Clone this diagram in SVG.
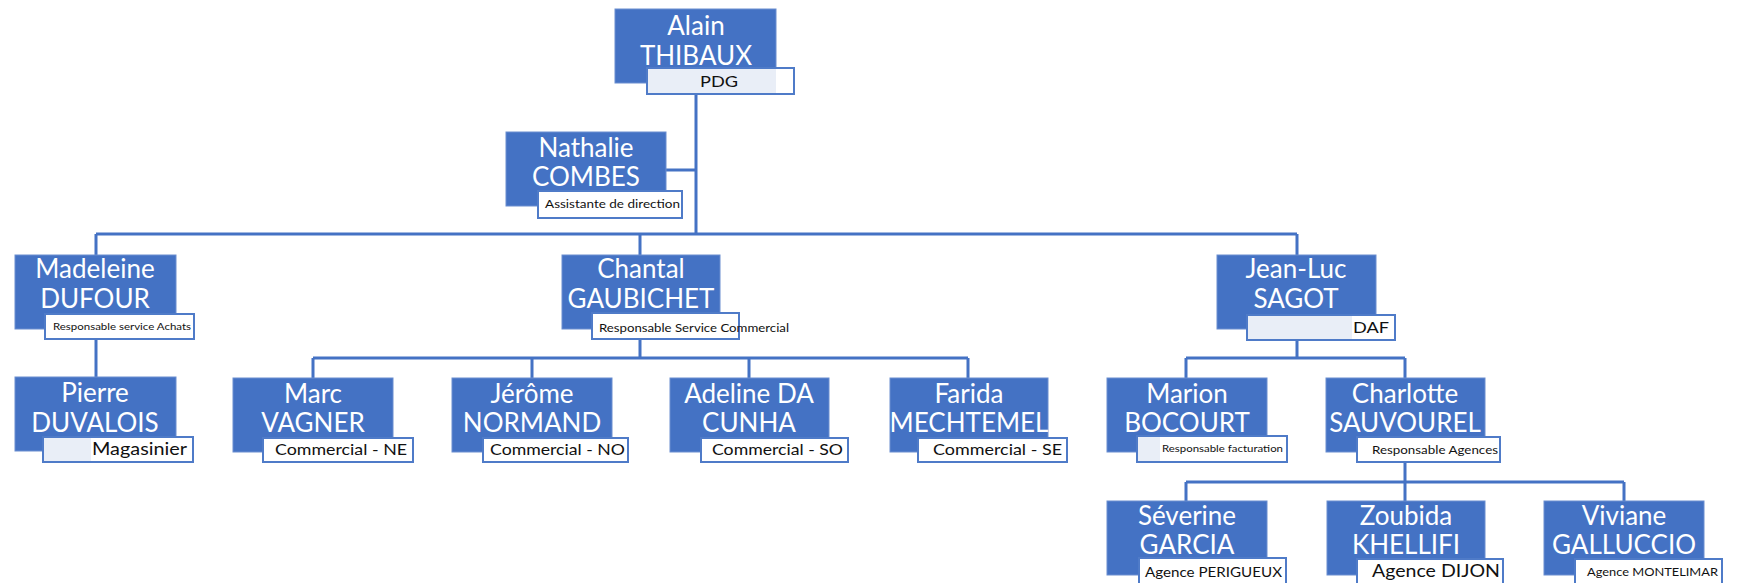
<svg xmlns="http://www.w3.org/2000/svg" width="1737" height="583" viewBox="0 0 1737 583">
<style>
.box{fill:#4472C4;stroke:#6A8ED0;stroke-width:1}
.lab{fill:#FFFFFF;stroke:#4F7BC8;stroke-width:2}
.tint{fill:#E9EEF7}
.nm{font-family:Lato,"Liberation Sans",sans-serif;font-size:26px;fill:#FFFFFF;text-anchor:middle}
.lt{font-family:Lato,"Liberation Sans",sans-serif;fill:#111111}
.con{fill:none;stroke:#4472C4;stroke-width:3}
</style>
<rect width="1737" height="583" fill="#FFFFFF"/>
<g id="connectors" class="con">
<path d="M696 94V234M666 170H696M96 234H1297M96 234V255M640 234V255M1297 234V255"/>
<path d="M96 339V377"/>
<path d="M640 339V358M313 358H968M313 358V378M532 358V378M749 358V378M968 358V378"/>
<path d="M1297 340V358M1186 358H1405M1186 358V378M1405 358V378"/>
<path d="M1405 462V482M1186 482H1624M1186 482V501M1405 482V501M1624 482V501"/>
</g>
<g id="n-alain"><rect class="box" x="615" y="9" width="161" height="74"/><text class="nm" x="696" y="35">Alain</text><text class="nm" x="696" y="65">THIBAUX</text><rect class="lab" x="647" y="68" width="147" height="26"/><rect class="tint" x="648" y="69" width="128" height="24"/><text class="lt" x="700" y="87" font-size="16" textLength="38" lengthAdjust="spacingAndGlyphs">PDG</text></g>
<g id="n-nathalie"><rect class="box" x="506" y="132" width="160" height="74"/><text class="nm" x="586" y="157">Nathalie</text><text class="nm" x="586" y="186">COMBES</text><rect class="lab" x="538" y="191" width="144" height="27"/><text class="lt" x="545" y="208" font-size="11.5" textLength="135" lengthAdjust="spacingAndGlyphs">Assistante de direction</text></g>
<g id="n-madeleine"><rect class="box" x="15" y="255" width="161" height="74"/><text class="nm" x="95" y="278">Madeleine</text><text class="nm" x="95" y="308">DUFOUR</text><rect class="lab" x="45" y="314" width="149" height="25"/><text class="lt" x="53" y="330" font-size="10" textLength="138" lengthAdjust="spacingAndGlyphs">Responsable service Achats</text></g>
<g id="n-chantal"><rect class="box" x="562" y="255" width="158" height="74"/><text class="nm" x="641" y="278">Chantal</text><text class="nm" x="641" y="308">GAUBICHET</text><rect class="lab" x="592" y="313" width="147" height="26"/><text class="lt" x="599" y="332" font-size="12" textLength="190" lengthAdjust="spacingAndGlyphs">Responsable Service Commercial</text></g>
<g id="n-jeanluc"><rect class="box" x="1217" y="255" width="159" height="74"/><text class="nm" x="1296" y="278">Jean-Luc</text><text class="nm" x="1296" y="308">SAGOT</text><rect class="lab" x="1247" y="315" width="148" height="25"/><rect class="tint" x="1248" y="316" width="104" height="23"/><text class="lt" x="1353" y="333" font-size="16" textLength="36" lengthAdjust="spacingAndGlyphs">DAF</text></g>
<g id="n-pierre"><rect class="box" x="15" y="377" width="161" height="74"/><text class="nm" x="95" y="402">Pierre</text><text class="nm" x="95" y="432">DUVALOIS</text><rect class="lab" x="43" y="437" width="150" height="25"/><rect class="tint" x="44" y="438" width="47" height="23"/><text class="lt" x="92" y="455" font-size="17" textLength="95" lengthAdjust="spacingAndGlyphs">Magasinier</text></g>
<g id="n-marc"><rect class="box" x="233" y="378" width="160" height="74"/><text class="nm" x="313" y="403">Marc</text><text class="nm" x="313" y="432">VAGNER</text><rect class="lab" x="263" y="438" width="150" height="24"/><text class="lt" x="275" y="455" font-size="15" textLength="132" lengthAdjust="spacingAndGlyphs">Commercial - NE</text></g>
<g id="n-jerome"><rect class="box" x="452" y="378" width="160" height="74"/><text class="nm" x="532" y="403">Jérôme</text><text class="nm" x="532" y="432">NORMAND</text><rect class="lab" x="483" y="438" width="145" height="24"/><text class="lt" x="490" y="455" font-size="15" textLength="135" lengthAdjust="spacingAndGlyphs">Commercial - NO</text></g>
<g id="n-adeline"><rect class="box" x="670" y="378" width="159" height="74"/><text class="nm" x="749" y="403">Adeline DA</text><text class="nm" x="749" y="432">CUNHA</text><rect class="lab" x="701" y="438" width="147" height="24"/><text class="lt" x="712" y="455" font-size="15" textLength="131" lengthAdjust="spacingAndGlyphs">Commercial - SO</text></g>
<g id="n-farida"><rect class="box" x="890" y="378" width="158" height="74"/><text class="nm" x="969" y="403">Farida</text><text class="nm" x="969" y="432">MECHTEMEL</text><rect class="lab" x="918" y="438" width="149" height="24"/><text class="lt" x="933" y="455" font-size="15" textLength="129" lengthAdjust="spacingAndGlyphs">Commercial - SE</text></g>
<g id="n-marion"><rect class="box" x="1107" y="378" width="160" height="74"/><text class="nm" x="1187" y="403">Marion</text><text class="nm" x="1187" y="432">BOCOURT</text><rect class="lab" x="1137" y="436" width="150" height="26"/><rect class="tint" x="1138" y="437" width="22" height="24"/><text class="lt" x="1162" y="452" font-size="10" textLength="121" lengthAdjust="spacingAndGlyphs">Responsable facturation</text></g>
<g id="n-charlotte"><rect class="box" x="1326" y="378" width="159" height="74"/><text class="nm" x="1405" y="403">Charlotte</text><text class="nm" x="1405" y="432">SAUVOUREL</text><rect class="lab" x="1357" y="437" width="143" height="25"/><text class="lt" x="1372" y="454" font-size="11.5" textLength="126" lengthAdjust="spacingAndGlyphs">Responsable Agences</text></g>
<g id="n-severine"><rect class="box" x="1107" y="501" width="160" height="74"/><text class="nm" x="1187" y="525">Séverine</text><text class="nm" x="1187" y="554">GARCIA</text><rect class="lab" x="1139" y="558" width="147" height="30"/><text class="lt" x="1145" y="577" font-size="13" textLength="137" lengthAdjust="spacingAndGlyphs">Agence PERIGUEUX</text></g>
<g id="n-zoubida"><rect class="box" x="1327" y="501" width="158" height="74"/><text class="nm" x="1406" y="525">Zoubida</text><text class="nm" x="1406" y="554">KHELLIFI</text><rect class="lab" x="1357" y="559" width="146" height="30"/><text class="lt" x="1372" y="577" font-size="17" textLength="128" lengthAdjust="spacingAndGlyphs">Agence DIJON</text></g>
<g id="n-viviane"><rect class="box" x="1544" y="501" width="160" height="74"/><text class="nm" x="1624" y="525">Viviane</text><text class="nm" x="1624" y="554">GALLUCCIO</text><rect class="lab" x="1575" y="559" width="147" height="30"/><text class="lt" x="1587" y="576" font-size="12" textLength="131" lengthAdjust="spacingAndGlyphs">Agence MONTELIMAR</text></g>
</svg>
